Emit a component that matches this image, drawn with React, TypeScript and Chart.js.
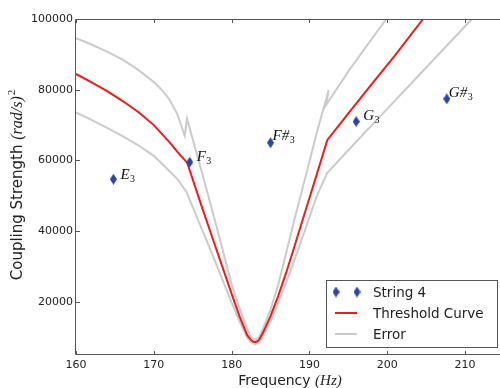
import React, { useEffect, useRef } from 'react';
import { Chart, registerables } from 'chart.js';

Chart.register(...registerables);

// ---- data ----
const noteNames = ['E', 'F', 'F#', 'G', 'G#'];
const noteSubs = ['3', '3', '3', '3', '3'];
const noteFreq = [164.81, 174.61, 185.0, 196.0, 207.65];
const noteStrength = [54700, 59500, 65000, 71000, 77400];

const thresholdFreq = [160, 162, 164, 166, 168, 170, 172, 173, 174.3, 176, 178, 179, 180, 181, 182, 182.5, 182.75, 183, 183.25, 183.5, 184, 185, 186, 187, 188, 189, 190, 191, 192.3, 195, 198, 201, 204.6, 206];
const thresholdVal = [84450, 82100, 79600, 76800, 73700, 70000, 65200, 62500, 59300, 48000, 35100, 28700, 22300, 16000, 10600, 9200, 8800, 8600, 8800, 9200, 11200, 16000, 21800, 28200, 35200, 42300, 49400, 56500, 65800, 73300, 81600, 89700, 100000, 103900];

const errUpperFreq = [160, 162, 164, 166, 168, 170, 171, 172, 173, 173.97, 174.27, 176, 178, 179, 180, 181, 182, 182.5, 183, 183.5, 184, 185, 186, 187, 188, 189, 190, 191, 192.47, 192.14, 195.13, 199.87, 201];
const errUpperVal = [94600, 92800, 90800, 88500, 85600, 82200, 80000, 77300, 73200, 67000, 71800, 58100, 41800, 33400, 25000, 18300, 12300, 10000, 9300, 9900, 12300, 17800, 25000, 33800, 42700, 51200, 59700, 68300, 79900, 75700, 85600, 100000, 103700];

const errLowerFreq = [160, 162, 164, 166, 168, 170, 172, 173, 174.2, 175, 176, 177, 178, 179, 180, 181, 182, 182.5, 183, 183.5, 184, 185, 186, 187, 188, 189, 190, 191, 192.3, 196, 200, 205, 212];
const errLowerVal = [73600, 71500, 69200, 66900, 64300, 61300, 57000, 54800, 51100, 46800, 41500, 36200, 30800, 25300, 19800, 14600, 9900, 8600, 8000, 8600, 10300, 14700, 20000, 25500, 31400, 37600, 44000, 50300, 56500, 65300, 74600, 86300, 102600];

const xTicks = [160, 170, 180, 190, 200, 210];
const yTicks = [20000, 40000, 60000, 80000, 100000];

const seriesLabels = ['String 4', 'Threshold Curve', 'Error'];

// label placement offsets (pixels)
const labelDx = [7, 7, 2, 7, 2];
const labelDy = [0, -1, -3, -2, -2];

const BLUE = '#2b45a0';
const RED = '#ee1c1c';
const GREY = '#cbcbcb';

function makeDiamond(w: number, h: number, color: string) {
  const c = document.createElement('canvas');
  c.width = w;
  c.height = h;
  const g = c.getContext('2d')!;
  g.fillStyle = color;
  g.beginPath();
  g.moveTo(w / 2, 0);
  g.lineTo(w, h / 2);
  g.lineTo(w / 2, h);
  g.lineTo(0, h / 2);
  g.closePath();
  g.fill();
  return c;
}

const zip = (xs: number[], ys: number[]) => xs.map((x, i) => ({ x, y: ys[i] }));

export default function App() {
  const ref = useRef<HTMLCanvasElement | null>(null);

  useEffect(() => {
    const canvas = ref.current!;
    const diamond = makeDiamond(7, 11, BLUE);

    const decorPlugin = {
      id: 'decor',
      afterDatasetsDraw(chart: any) {
        const { ctx, chartArea: a, scales } = chart;
        const x = scales.x;
        const y = scales.y;
        ctx.save();
        ctx.strokeStyle = '#555';
        ctx.lineWidth = 1;
        ctx.beginPath();
        ctx.rect(Math.round(a.left) - 0.5, Math.round(a.top) + 0.5, a.right - a.left, a.bottom - a.top - 1);
        ctx.stroke();
        ctx.beginPath();
        for (const v of xTicks) {
          const px = Math.round(x.getPixelForValue(v)) + 0.5;
          ctx.moveTo(px, a.bottom);
          ctx.lineTo(px, a.bottom - 4);
          ctx.moveTo(px, a.top);
          ctx.lineTo(px, a.top + 4);
        }
        for (const v of yTicks) {
          const py = Math.round(y.getPixelForValue(v)) + 0.5;
          ctx.moveTo(a.left, py);
          ctx.lineTo(a.left + 4, py);
        }
        ctx.stroke();
        ctx.restore();
      },
      afterDraw(chart: any) {
        const { ctx, chartArea: a, scales } = chart;
        const x = scales.x;
        const y = scales.y;
        ctx.save();
        ctx.fillStyle = '#111';
        ctx.textBaseline = 'alphabetic';
        // note labels
        for (let i = 0; i < noteNames.length; i++) {
          const px = x.getPixelForValue(noteFreq[i]) + labelDx[i];
          const py = y.getPixelForValue(noteStrength[i]) + labelDy[i];
          ctx.font = 'italic 15px "Liberation Serif"';
          ctx.fillText(noteNames[i], px, py);
          const w = ctx.measureText(noteNames[i]).width;
          ctx.font = '10px "Liberation Serif"';
          ctx.fillText(noteSubs[i], px + w + 0.5, py + 3);
        }

        // x title
        const xt1 = 'Frequency ';
        const xt2 = '(Hz)';
        ctx.font = '14px "DejaVu Sans"';
        const w1 = ctx.measureText(xt1).width;
        ctx.font = 'italic 15px "Liberation Serif"';
        const w2 = ctx.measureText(xt2).width;
        const sx = (a.left + a.right) / 2 - (w1 + w2) / 2;
        ctx.fillStyle = '#222';
        ctx.font = '14px "DejaVu Sans"';
        ctx.fillText(xt1, sx, 385);
        ctx.font = 'italic 15px "Liberation Serif"';
        ctx.fillText(xt2, sx + w1, 385);

        // y title
        const yt1 = 'Coupling Strength ';
        const yt2 = '(rad/s)';
        const yt3 = '2';
        ctx.font = '15px "DejaVu Sans"';
        const v1 = ctx.measureText(yt1).width;
        ctx.font = 'italic 16px "Liberation Serif"';
        const v2 = ctx.measureText(yt2).width;
        ctx.font = '11px "Liberation Serif"';
        const v3 = ctx.measureText(yt3).width;
        const total = v1 + v2 + v3 + 1;
        ctx.save();
        ctx.translate(22, (a.top + a.bottom) / 2 - 2);
        ctx.rotate(-Math.PI / 2);
        let s = -total / 2;
        ctx.font = '15px "DejaVu Sans"';
        ctx.fillText(yt1, s, 0);
        s += v1;
        ctx.font = 'italic 16px "Liberation Serif"';
        ctx.fillText(yt2, s, 0);
        s += v2 + 1;
        ctx.font = '11px "Liberation Serif"';
        ctx.fillText(yt3, s, -7);
        ctx.restore();

        // legend
        const lx = 326, ly = 280, lw = 171, lh = 67;
        ctx.fillStyle = '#fff';
        ctx.fillRect(lx, ly, lw, lh);
        ctx.strokeStyle = '#555';
        ctx.lineWidth = 1;
        ctx.strokeRect(lx + 0.5, ly + 0.5, lw, lh);
        const rows = [292, 313, 334];
        ctx.drawImage(diamond, 336 - 3.5, rows[0] - 5.5);
        ctx.drawImage(diamond, 357 - 3.5, rows[0] - 5.5);
        ctx.lineWidth = 2;
        ctx.strokeStyle = RED;
        ctx.beginPath();
        ctx.moveTo(335, rows[1]);
        ctx.lineTo(357, rows[1]);
        ctx.stroke();
        ctx.strokeStyle = GREY;
        ctx.beginPath();
        ctx.moveTo(335, rows[2]);
        ctx.lineTo(357, rows[2]);
        ctx.stroke();
        ctx.fillStyle = '#222';
        ctx.font = '13.5px "DejaVu Sans"';
        ctx.textBaseline = 'middle';
        for (let i = 0; i < 3; i++) ctx.fillText(seriesLabels[i], 373, rows[i] + 1);
        ctx.restore();
      },
    };

    const chart = new Chart(canvas, {
      type: 'scatter',
      data: {
        datasets: [
          {
            label: seriesLabels[0],
            data: zip(noteFreq, noteStrength),
            pointStyle: diamond as any,
            pointRadius: 5,
            showLine: false,
            order: 0,
          },
          {
            label: seriesLabels[1],
            data: zip(thresholdFreq, thresholdVal),
            showLine: true,
            borderColor: RED,
            borderWidth: 2,
            pointRadius: 0,
            tension: 0,
            order: 1,
          },
          {
            label: seriesLabels[2],
            data: zip(errUpperFreq, errUpperVal),
            showLine: true,
            borderColor: GREY,
            borderWidth: 2,
            pointRadius: 0,
            tension: 0,
            order: 2,
          },
          {
            label: seriesLabels[2],
            data: zip(errLowerFreq, errLowerVal),
            showLine: true,
            borderColor: GREY,
            borderWidth: 2,
            pointRadius: 0,
            tension: 0,
            order: 2,
          },
        ],
      },
      options: {
        responsive: false,
        animation: false,
        devicePixelRatio: 1,
        layout: { padding: { top: 19, right: 5, left: 0, bottom: 0 } },
        plugins: { legend: { display: false }, tooltip: { enabled: false } },
        scales: {
          x: {
            type: 'linear',
            min: 160,
            max: 215,
            grid: { display: false, drawTicks: false },
            border: { display: false },
            afterBuildTicks: (s: any) => { s.ticks = xTicks.map((v) => ({ value: v })); },
            afterFit: (s: any) => { s.height = 33; },
            ticks: { color: '#222', font: { family: 'DejaVu Sans', size: 11 }, padding: 4, maxRotation: 0, callback: (v: any) => String(v) },
          },
          y: {
            type: 'linear',
            min: 5000,
            max: 100000,
            grid: { display: false, drawTicks: false },
            border: { display: false },
            afterBuildTicks: (s: any) => { s.ticks = yTicks.map((v) => ({ value: v })); },
            afterFit: (s: any) => { s.width = 76; },
            ticks: { color: '#222', font: { family: 'DejaVu Sans', size: 11 }, padding: 3, callback: (v: any) => String(v) },
          },
        },
      },
      plugins: [decorPlugin],
    } as any);

    return () => chart.destroy();
  }, []);

  return (
    <div style={{ position: 'fixed', left: 0, top: 0, width: 500, height: 388, overflow: 'hidden', background: '#fff' }}>
      <canvas ref={ref} width={510} height={388} style={{ display: 'block', width: 510, height: 388 }} />
    </div>
  );
}
